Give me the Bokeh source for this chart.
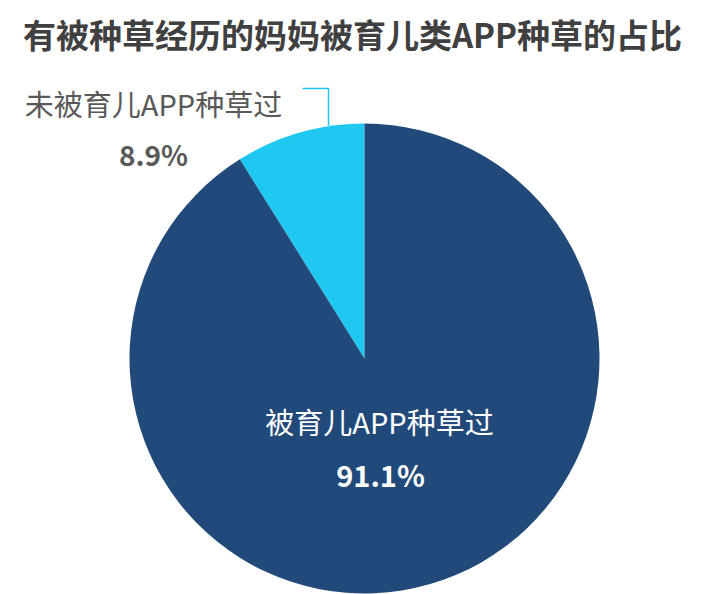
import math
from bokeh.plotting import figure
from bokeh.models import Range1d, ColumnDataSource
from bokeh.core.properties import value
from bokeh.embed import file_html
from bokeh.resources import INLINE

title = "有被种草经历的妈妈被育儿类APP种草的占比"
categories = ["未被育儿APP种草过", "被育儿APP种草过"]
values = [8.9, 91.1]
colors = ["#1FC8F1", "#214A7B"]

W, H = 705, 594
FONT = "Noto Sans CJK SC"

def sy(y):  # screen y -> data y
    return H - y

def sx(x):
    return x

p = figure(width=W, height=H, output_backend="svg", toolbar_location=None,
           x_range=Range1d(0, W), y_range=Range1d(0, H), min_border=0)
p.axis.visible = False
p.grid.visible = False
p.outline_line_color = None
p.background_fill_color = "white"

cx, cy, r = sx(364), sy(358), 235
total = sum(values)
starts, ends = [], []
a = math.pi / 2
for v in values:
    starts.append(a)
    a += v / total * 2 * math.pi
    ends.append(a)

src = ColumnDataSource(dict(x=[cx] * len(values), y=[cy] * len(values),
                            start=starts, end=ends, color=colors))
p.wedge(x="x", y="y", radius=r, radius_units="screen", start_angle="start",
        end_angle="end", fill_color="color", line_color=None, source=src)

# title
p.text(x=[sx(352)], y=[sy(33)], text=[title], text_font=value(FONT),
       text_font_style="bold", text_font_size="33px", text_color="#404040",
       text_align="center", text_baseline="middle")

# outside label for small slice
p.text(x=[sx(153)], y=[sy(102)], text=[categories[0]], text_font=value(FONT),
       text_font_size="29px", text_color="#595959",
       text_align="center", text_baseline="middle")
p.text(x=[sx(153)], y=[sy(153)], text=[f"{values[0]:.1f}%"], text_font=value(FONT),
       text_font_style="bold", text_font_size="28px", text_color="#595959",
       text_align="center", text_baseline="middle")
p.line(x=[sx(302), sx(328), sx(328)], y=[sy(88), sy(88), sy(125)],
       line_color=colors[0], line_width=1.5)

# inside label for big slice
p.text(x=[sx(379)], y=[sy(420)], text=[categories[1]], text_font=value(FONT),
       text_font_size="29px", text_color="white",
       text_align="center", text_baseline="middle")
p.text(x=[sx(380)], y=[sy(473)], text=[f"{values[1]:.1f}%"], text_font=value(FONT),
       text_font_style="bold", text_font_size="29px", text_color="white",
       text_align="center", text_baseline="middle")

open("out.html", "w").write(file_html(p, INLINE))
